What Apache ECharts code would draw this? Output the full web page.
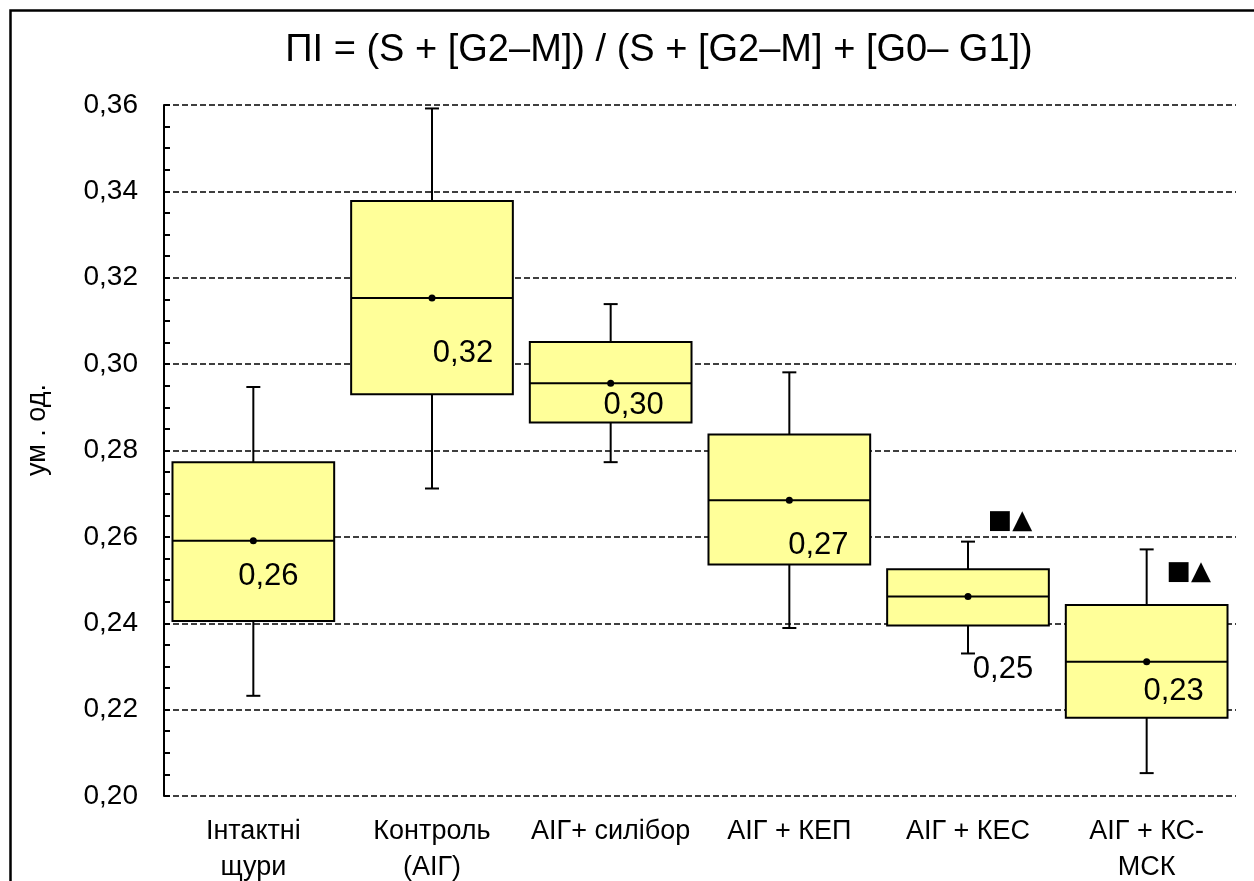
<!DOCTYPE html>
<html>
<head>
<meta charset="utf-8">
<script src="https://cdn.jsdelivr.net/npm/echarts@6/dist/echarts.min.js"></script>
<style>
html,body{margin:0;padding:0;background:#fff;}
#chart{width:1254px;height:881px;}
</style>
</head>
<body>
<div id="chart"></div>
<script>
// ---- data ----
var categories = ['Інтактні\nщури', 'Контроль\n(АІГ)', 'АІГ+ силібор', 'АІГ + КЕП', 'АІГ + КЕС', 'АІГ + КС-\nМСК'];
var whiskerLow = [0.2232, 0.2712, 0.2773, 0.2389, 0.2330, 0.2053];
var q1         = [0.2405, 0.2930, 0.2865, 0.2536, 0.2395, 0.2181];
var medians    = [0.2591, 0.3153, 0.2956, 0.2685, 0.2462, 0.2311];
var q3         = [0.2773, 0.3378, 0.3051, 0.2837, 0.2525, 0.2442];
var whiskerHigh= [0.2947, 0.3592, 0.3139, 0.2981, 0.2589, 0.2571];
var means      = [0.2591, 0.3153, 0.2956, 0.2685, 0.2462, 0.2311];
var signif     = ['', '', '', '', '■▲', '■▲'];
var yTicks     = [0.20, 0.22, 0.24, 0.26, 0.28, 0.30, 0.32, 0.34, 0.36];
var titleText  = 'ПІ = (S + [G2–M]) / (S + [G2–M] + [G0– G1])';
var yName      = 'ум . од.';

// ---- annotation offsets in pixels (layout, not data) ----
var labelOffsetX = [15, 31, 23, 29, 35, 27];
var labelOffsetY = [36, 55, 22, 45, 73, 30];
var markOffsetX  = [0, 0, 0, 0, 42, 42];
var markOffsetY  = [0, 0, 0, 0, -20, 23];

var FONT = '"Liberation Sans", Arial, sans-serif';

var seriesData = categories.map(function (c, i) {
  return [i, whiskerLow[i], q1[i], medians[i], q3[i], whiskerHigh[i], means[i]];
});

function fmt(v) { return v.toFixed(2).replace('.', ','); }

function renderItem(params, api) {
  var i = api.value(0);
  var band = api.size([1, 0])[0];
  var bw = band * 0.905;
  var cap = 14;
  var pLow = api.coord([i, api.value(1)]);
  var pQ1 = api.coord([i, api.value(2)]);
  var pMed = api.coord([i, api.value(3)]);
  var pQ3 = api.coord([i, api.value(4)]);
  var pHigh = api.coord([i, api.value(5)]);
  var pMean = api.coord([i, api.value(6)]);
  var cx = pMed[0];
  var lineStyle = {stroke: '#000', lineWidth: 2, fill: null};
  var children = [
    {type: 'line', shape: {x1: cx, y1: pQ3[1], x2: cx, y2: pHigh[1]}, style: lineStyle},
    {type: 'line', shape: {x1: cx - cap / 2, y1: pHigh[1], x2: cx + cap / 2, y2: pHigh[1]}, style: lineStyle},
    {type: 'line', shape: {x1: cx, y1: pQ1[1], x2: cx, y2: pLow[1]}, style: lineStyle},
    {type: 'line', shape: {x1: cx - cap / 2, y1: pLow[1], x2: cx + cap / 2, y2: pLow[1]}, style: lineStyle},
    {type: 'rect', shape: {x: cx - bw / 2, y: pQ3[1], width: bw, height: pQ1[1] - pQ3[1]},
      style: {fill: '#FFFF99', stroke: '#000', lineWidth: 2}},
    {type: 'line', shape: {x1: cx - bw / 2, y1: pMed[1], x2: cx + bw / 2, y2: pMed[1]}, style: lineStyle},
    {type: 'circle', shape: {cx: cx, cy: pMean[1], r: 3.5}, style: {fill: '#000'}},
    {type: 'text', x: cx + labelOffsetX[i], y: pMed[1] + labelOffsetY[i],
      style: {text: fmt(medians[i]), fill: '#000', fontSize: 31, fontFamily: FONT, align: 'center', verticalAlign: 'middle'}}
  ];
  if (signif[i]) {
    children.push({type: 'text', x: cx + markOffsetX[i], y: pHigh[1] + markOffsetY[i],
      style: {text: signif[i], fill: '#000', fontSize: 26, fontFamily: '"DejaVu Sans", sans-serif', align: 'center', verticalAlign: 'middle'}});
  }
  return {type: 'group', children: children};
}

var chart = echarts.init(document.getElementById('chart'), null, {renderer: 'canvas'});
chart.setOption({
  animation: false,
  backgroundColor: '#fff',
  title: {
    text: titleText,
    left: 654,
    top: 27,
    textAlign: 'center',
    textStyle: {fontFamily: FONT, fontSize: 38, fontWeight: 'normal', color: '#000'}
  },
  graphic: [{
    type: 'rect', left: 8, top: 8, silent: true,
    shape: {x: 0, y: 0, width: 1400, height: 1000},
    style: {fill: null, stroke: '#000', lineWidth: 2.5}
  }, {
    type: 'text', x: 38, y: 430, rotation: Math.PI / 2, silent: true,
    style: {text: yName, fill: '#000', fontSize: 27, fontFamily: FONT, align: 'center', verticalAlign: 'middle'}
  }],
  grid: {left: 164, right: 18, top: 105, bottom: 85, outerBoundsMode: 'none', containLabel: false},
  xAxis: {
    type: 'category',
    data: categories,
    boundaryGap: true,
    axisLine: {show: false},
    axisTick: {show: false},
    axisLabel: {color: '#000', fontSize: 27, fontFamily: FONT, margin: 18, lineHeight: 36, interval: 0}
  },
  yAxis: {
    type: 'value',
    min: yTicks[0],
    max: yTicks[yTicks.length - 1],
    interval: 0.02,
    axisLine: {show: true, lineStyle: {color: '#000', width: 2}},
    axisTick: {show: true, inside: true, length: 6, lineStyle: {color: '#000', width: 2}},
    minorTick: {show: true, splitNumber: 4, length: 6, lineStyle: {color: '#000', width: 2}},
    axisLabel: {color: '#000', fontSize: 28, fontFamily: FONT, margin: 26,
      formatter: function (v) { return fmt(v); }},
    splitLine: {show: true, lineStyle: {color: '#000', width: 1.6, type: [6, 3]}}
  },
  series: [{
    type: 'custom',
    renderItem: renderItem,
    encode: {x: 0, y: [1, 2, 3, 4, 5]},
    data: seriesData,
    z: 5
  }]
});
</script>
</body>
</html>
